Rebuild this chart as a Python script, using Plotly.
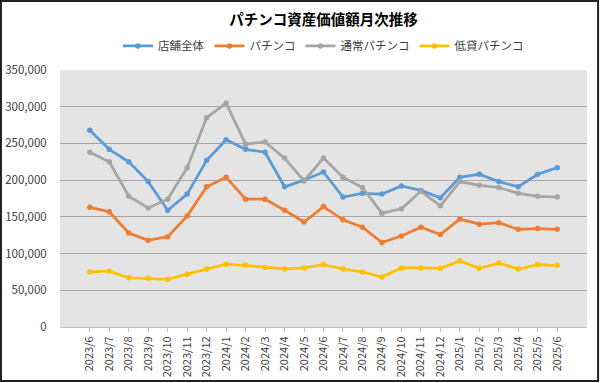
import plotly.graph_objects as go

months = ["2023/6","2023/7","2023/8","2023/9","2023/10","2023/11","2023/12",
          "2024/1","2024/2","2024/3","2024/4","2024/5","2024/6","2024/7","2024/8",
          "2024/9","2024/10","2024/11","2024/12","2025/1","2025/2","2025/3",
          "2025/4","2025/5","2025/6"]

store_total = [268000,242000,225000,198000,159000,181000,227000,255000,242000,238000,
               191000,200000,211000,177000,182000,181000,192000,186000,176000,
               204000,208000,198000,191000,208000,217000]
pachinko = [163000,157000,128000,118000,123000,151000,191000,204000,174000,174000,
            159000,143000,164000,146000,136000,115000,124000,136000,126000,
            147000,140000,142000,133000,134000,133000]
normal_pachinko = [238000,225000,178000,162000,174000,217000,285000,305000,249000,252000,
                   230000,199000,230000,204000,190000,155000,161000,185000,165000,
                   198000,193000,190000,182000,178000,177000]
low_rate_pachinko = [75000,76000,67000,66500,65000,72000,79000,85500,84000,81000,
                     79000,80500,85000,79000,75000,68000,80500,80500,80000,
                     90000,80000,87000,79000,85000,84000]

series = [
    ("店舗全体", store_total, "#5B9BD5"),
    ("パチンコ", pachinko, "#ED7D31"),
    ("通常パチンコ", normal_pachinko, "#A5A5A5"),
    ("低貸パチンコ", low_rate_pachinko, "#FFC000"),
]

font_family = "Noto Sans CJK JP, Noto Sans, sans-serif"

fig = go.Figure()
for name, vals, color in series:
    fig.add_trace(go.Scatter(
        x=months, y=vals, name=name, mode="lines+markers",
        line=dict(color=color, width=2.75),
        marker=dict(color=color, size=5.5),
    ))

fig.update_layout(
    width=600, height=383,
    margin=dict(l=60, r=13, t=70, b=56, autoexpand=False),
    paper_bgcolor="white",
    plot_bgcolor="#e4e4e4",
    font=dict(family=font_family, size=11, color="#404040"),
    title=dict(text="<b>パチンコ資産価値額月次推移</b>", x=0.5, xanchor="center",
               xref="paper", yref="container", y=0.948, yanchor="middle",
               font=dict(size=14.5, color="#000000", family=font_family)),
    legend=dict(orientation="h", x=0.5, xanchor="center", yref="container",
                y=0.88, yanchor="middle",
                font=dict(size=11.5, color="#404040"),
                bgcolor="rgba(0,0,0,0)"),
    showlegend=True,
)

fig.update_xaxes(
    type="category", tickangle=-90, showgrid=False, automargin=False,
    showline=True, linecolor="#bfbfbf", ticks="outside", tickcolor="#bfbfbf",
    ticklen=4, tickfont=dict(size=11, color="#404040"),
)
fig.update_yaxes(
    range=[0, 350000], dtick=50000, tickformat=",", showgrid=True, automargin=False,
    gridcolor="#a6a6a6", gridwidth=1, zeroline=False, showline=False,
    ticks="outside", ticklen=10, tickcolor="rgba(0,0,0,0)",
    tickfont=dict(size=11.5, color="#404040"),
)

fig.add_shape(type="rect", xref="paper", yref="paper",
              x0=-0.112, x1=1.021, y0=-0.21, y1=1.268,
              line=dict(color="#222222", width=2), layer="above")

fig.write_html("out.html", config={"displayModeBar": False},
               post_script="document.body.style.margin='0';document.body.style.overflow='hidden';")
